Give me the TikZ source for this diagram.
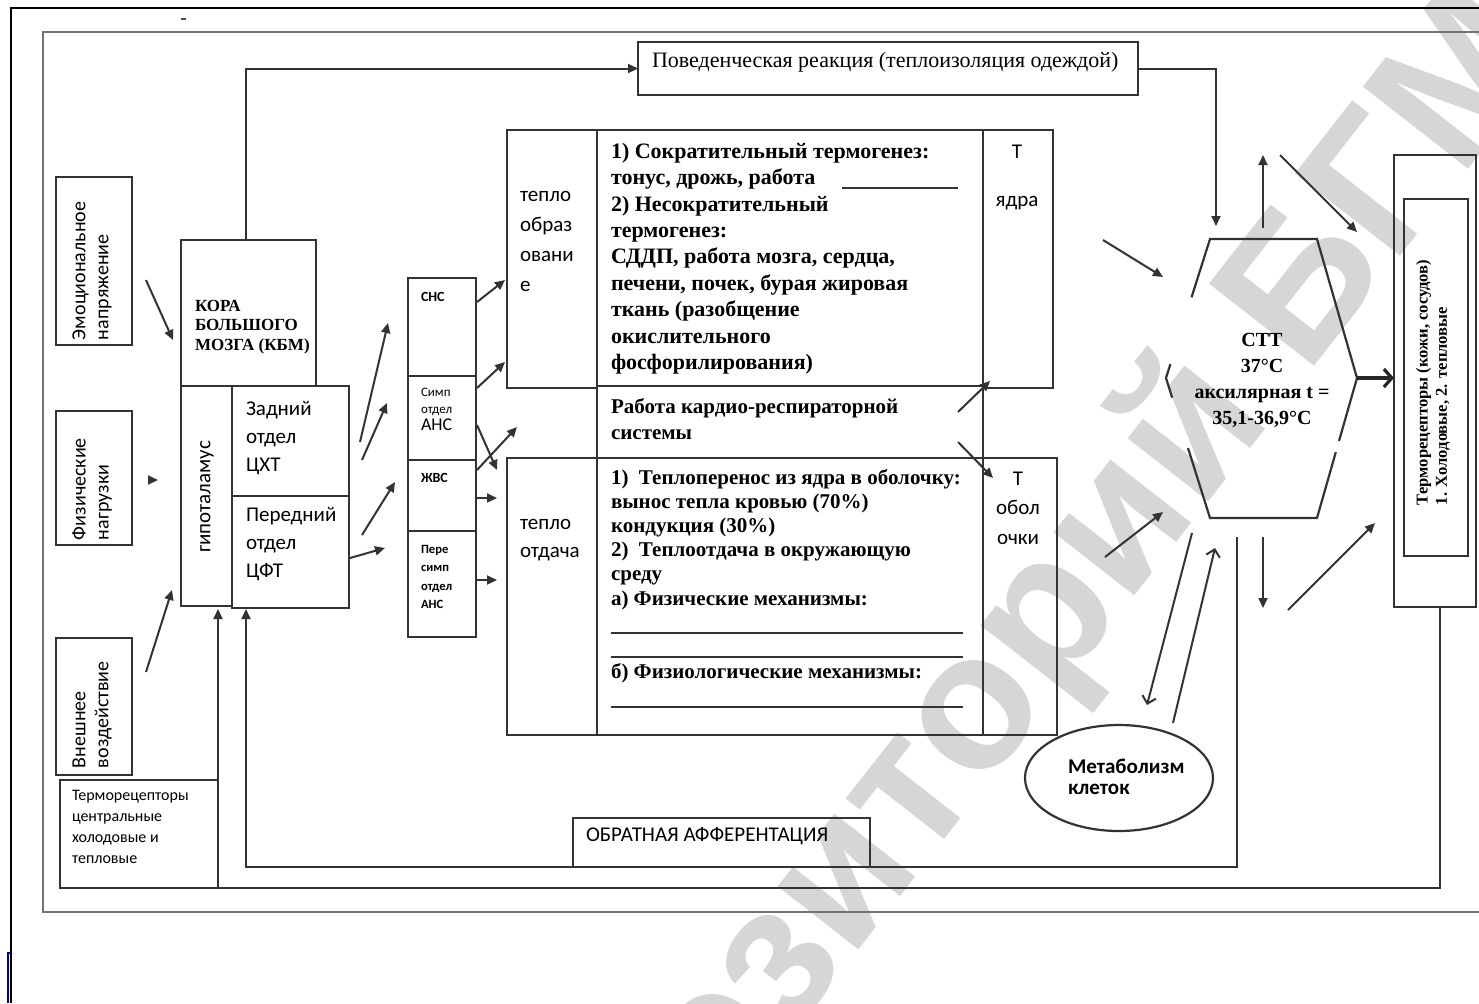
\documentclass[tikz,border=0pt]{standalone}
\usepackage{fontspec}
\setmainfont{Liberation Serif}
\newfontfamily\sansf{Carlito}
\newfontfamily\wmf{Liberation Sans}
\usetikzlibrary{arrows.meta,calc,shapes.geometric}
\newcommand\bx[5]{\node[ln, rectangle, anchor=north west, minimum width={(#4-#2)*0.5pt}, minimum height={(#5-#3)*0.5pt}] (#1) at (#2,#3) {};}
\begin{document}
\begin{tikzpicture}[x=0.5pt,y=-0.5pt,
  every node/.style={inner sep=0pt, outer sep=0pt},
  ln/.style={draw=black!80, line width=1.1pt},
  arr/.style={draw=black!80, line width=1pt, -{Triangle[length=5pt,width=4.5pt]}},
  oarr/.style={draw=black!80, line width=1pt, -{Straight Barb[length=3.5pt,width=7pt]}},
  tarr/.style={draw=black!85, line width=1.6pt, -{Straight Barb[length=4pt,width=9pt]}},
]
\useasboundingbox (0,0) rectangle (1479,1003);
% watermark
\node[rotate=52, text=black!16, font=\wmf\bfseries\fontsize{97}{97}\selectfont] (wm) at (1028,648) {Репозиторий БГМУ};
% page frame
\draw[black, line width=1pt] (1479,8) -- (11,8) -- (11,1003);
\draw[blue!60!black, line width=0.8pt] (11,953) -- (8,953) -- (8,1003);
\draw[black!70, line width=0.8pt] (181,19) -- (186,19);
% main frame
\draw[black!55, line width=1pt] (1479,32) -- (43,32) -- (43,912) -- (1479,912);

% left boxes
\bx{emo}{56}{177}{132}{345}
\bx{fiz}{56}{411}{132}{545}
\bx{vne}{56}{638}{132}{775}
\bx{trc}{60}{780}{218}{888}
\node[rotate=90, anchor=west, align=left, font=\sansf\fontsize{10}{11.5}\selectfont] (emot) at (92,340) {Эмоциональное\\напряжение};
\node[rotate=90, anchor=west, align=left, font=\sansf\fontsize{10}{11.5}\selectfont] (fizt) at (92,540) {Физические\\нагрузки};
\node[rotate=90, anchor=west, align=left, font=\sansf\fontsize{10}{11.5}\selectfont] (vnet) at (92,768) {Внешнее\\воздействие};
\node[anchor=north west, align=left, font=\sansf\fontsize{8}{10.5}\selectfont] (trct) at (72,790) {Терморецепторы\\центральные\\холодовые и\\тепловые};

% brain / hypothalamus
\bx{kora}{181}{240}{316}{386}
\bx{gipo}{181}{386}{232}{606}
\bx{zad}{232}{386}{349}{496}
\bx{per}{232}{496}{349}{608}
\node[anchor=north west, align=left, font=\bfseries\fontsize{8.5}{9.8}\selectfont] (korat) at (195,300) {КОРА\\БОЛЬШОГО\\МОЗГА (КБМ)};
\node[rotate=90, font=\sansf\fontsize{10.5}{12}\selectfont] (gipot) at (207,497) {гипоталамус};
\node[anchor=north west, align=left, font=\sansf\fontsize{10.5}{14}\selectfont] (zadt) at (246,401) {Задний\\отдел\\ЦХТ};
\node[anchor=north west, align=left, font=\sansf\fontsize{10.5}{14}\selectfont] (pert) at (246,507) {Передний\\отдел\\ЦФТ};

% autonomic column
\bx{sns}{408}{278}{476}{376}
\bx{simp}{408}{376}{476}{460}
\bx{zhvs}{408}{460}{476}{531}
\bx{psimp}{408}{531}{476}{637}
\node[anchor=north west, font=\sansf\bfseries\fontsize{7}{8}\selectfont] (snst) at (421,292) {СНС};
\node[anchor=north west, align=left, font=\sansf\fontsize{6.5}{8.5}\selectfont] (simpt) at (421,388) {Симп\\отдел\\{\fontsize{9}{9}\selectfont АНС}};
\node[anchor=north west, font=\sansf\bfseries\fontsize{7}{8}\selectfont] (zhvst) at (421,473) {ЖВС};
\node[anchor=north west, align=left, font=\sansf\bfseries\fontsize{6.3}{9.3}\selectfont] (psimpt) at (421,545) {Пере\\симп\\отдел\\АНС};

% central block
\bx{tobr}{507}{130}{597}{388}
\bx{ctop}{597}{130}{983}{386}
\bx{tyad}{983}{130}{1053}{388}
\bx{card}{597}{386}{983}{458}
\bx{totd}{507}{458}{597}{735}
\bx{cbot}{597}{458}{983}{735}
\bx{tob}{983}{458}{1057}{735}
\node[anchor=north west, align=left, font=\sansf\fontsize{10.5}{15}\selectfont] (tobrt) at (520,191) {тепло\\образ\\овани\\е};
\node[anchor=north west, align=left, font=\sansf\fontsize{10.5}{14}\selectfont] (totdt) at (520,519) {тепло\\отдача};
\node[anchor=north west, align=left, font=\bfseries\fontsize{11}{13.2}\selectfont] (ctopt) at (611,143) {1) Сократительный термогенез:\\тонус, дрожь, работа\\2) Несократительный\\термогенез:\\СДДП, работа мозга, сердца,\\печени, почек, бурая жировая\\ткань (разобщение\\окислительного\\фосфорилирования)};
\coordinate (u1a) at (842,188); \coordinate (u1b) at (958,188);
\draw[ln, line width=0.9pt] (u1a) -- (u1b);
\node[anchor=north west, align=left, font=\bfseries\fontsize{10.5}{13}\selectfont] (cardt) at (611,398) {Работа кардио-респираторной\\системы};
\node[anchor=north west, align=left, font=\bfseries\fontsize{10.5}{12.1}\selectfont] (cbott) at (611,469) {1)~ Теплоперенос из ядра в оболочку:\\вынос тепла кровью (70\%)\\кондукция (30\%)\\2)~ Теплоотдача в окружающую\\среду\\а) Физические механизмы:};
\node[anchor=north west, font=\bfseries\fontsize{10.5}{12}\selectfont] (cbott2) at (611,663) {б) Физиологические механизмы:};
\coordinate (l1a) at (611,633); \coordinate (l1b) at (963,633);
\coordinate (l2a) at (611,657); \coordinate (l2b) at (963,657);
\coordinate (l3a) at (611,707); \coordinate (l3b) at (963,707);
\draw[ln, line width=0.9pt] (l1a) -- (l1b);
\draw[ln, line width=0.9pt] (l2a) -- (l2b);
\draw[ln, line width=0.9pt] (l3a) -- (l3b);
\node[align=center, font=\sansf\fontsize{10.5}{24}\selectfont] (tyadt) at (1017,177) {Т\\ядра};
\node[align=center, font=\sansf\fontsize{10.5}{14.7}\selectfont] (tobt) at (1018,508) {Т\\обол\\очки};

% behaviour box
\bx{beh}{638}{42}{1138}{95}
\node[anchor=west, font=\fontsize{11}{13}\selectfont] (beht) at (652,62) {Поведенческая реакция (теплоизоляция одеждой)};

% feedback box
\bx{obr}{573}{818}{870}{867}
\node[anchor=west, font=\sansf\fontsize{10.5}{12}\selectfont] (obrt) at (586,836) {ОБРАТНАЯ АФФЕРЕНТАЦИЯ};

% hexagon СТТ
\coordinate (h1) at (1210,239); \coordinate (h2) at (1317,239); \coordinate (h3) at (1357,378);
\coordinate (h4) at (1317,518); \coordinate (h5) at (1210,518); \coordinate (h6) at (1166,378);
\draw[ln] ($(h6)!0.58!(h1)$) -- (h1) -- (h2) -- (h3) -- ($(h3)!0.45!(h4)$);
\draw[ln] ($(h3)!0.53!(h4)$) -- (h4) -- (h5) -- ($(h5)!0.5!(h6)$);
\draw[ln] ($(h6)!0.1!(h1)$) -- (h6) -- ($(h6)!0.14!(h5)$);
\node[align=center, font=\bfseries\fontsize{10}{13}\selectfont] (stt) at (1262,380) {СТТ\\37°С\\аксилярная t =\\35,1-36,9°С};

% right receptor box
\bx{trr}{1394}{155}{1476}{607}
\bx{trri}{1404}{199}{1468}{556}
\node[rotate=90, anchor=west, align=left, font=\bfseries\fontsize{8.3}{9.6}\selectfont] (trrt) at (1433,505) {Терморецепторы (кожи, сосудов)\\1. Холодовые, 2. тепловые};

% metabolism
\node[ln, ellipse, minimum width=94pt, minimum height=53pt] (meta) at (1119,778) {};
\node[anchor=north west, align=left, font=\sansf\bfseries\fontsize{10.5}{10.5}\selectfont] (metat) at (1068,759) {Метаболизм\\клеток};

% ---- connectors ----
\coordinate (hexin) at (1216,226);
\coordinate (korup) at (246,240);
\draw[arr] (korup) |- (beh.west);
\draw[arr] (beh.east) -| (hexin);
\coordinate (fb0) at (1237,537); \coordinate (perin) at (246,609);
\draw[arr] (fb0) |- (obr.south) -- (obr.south -| perin) -- (perin);
\coordinate (gipin) at (218,609); \coordinate (trrdown) at (1440,607);
\draw[arr] (trrdown) |- (trc.south east) -- (gipin);

\foreach \n/\a/\b/\c/\d in {
 e1/146/280/173/340, e2/150/480/158/480, e3/146/672/172/590,
 e4/360/442/388/323, e5/362/460/387/403, e6/362/535/395/482, e7/350/558/385/548,
 e8/477/302/505/280, e9/477/388/505/362, e10/477/425/497/470, e11/477/470/517/427,
 e12/477/498/497/498, e13/477/580/497/580, e14/958/412/990/381, e15/958/442/993/478,
 e16/1263/228/1263/155, e17/1280/155/1357/232, e18/1103/240/1163/277,
 e19/1105/557/1163/512, e20/1263/537/1263/608, e21/1288/610/1375/523}
 { \coordinate (\n s) at (\a,\b); \coordinate (\n t) at (\c,\d); \draw[arr] (\n s) -- (\n t); }
\coordinate (m1s) at (1192,533); \coordinate (m1t) at (1147,705);
\coordinate (m2s) at (1173,723); \coordinate (m2t) at (1215,548);
\draw[oarr] (m1s) -- (m1t);
\draw[oarr] (m2s) -- (m2t);
\draw[tarr] (h3) -- (trr.west |- h3);
\end{tikzpicture}
\end{document}
